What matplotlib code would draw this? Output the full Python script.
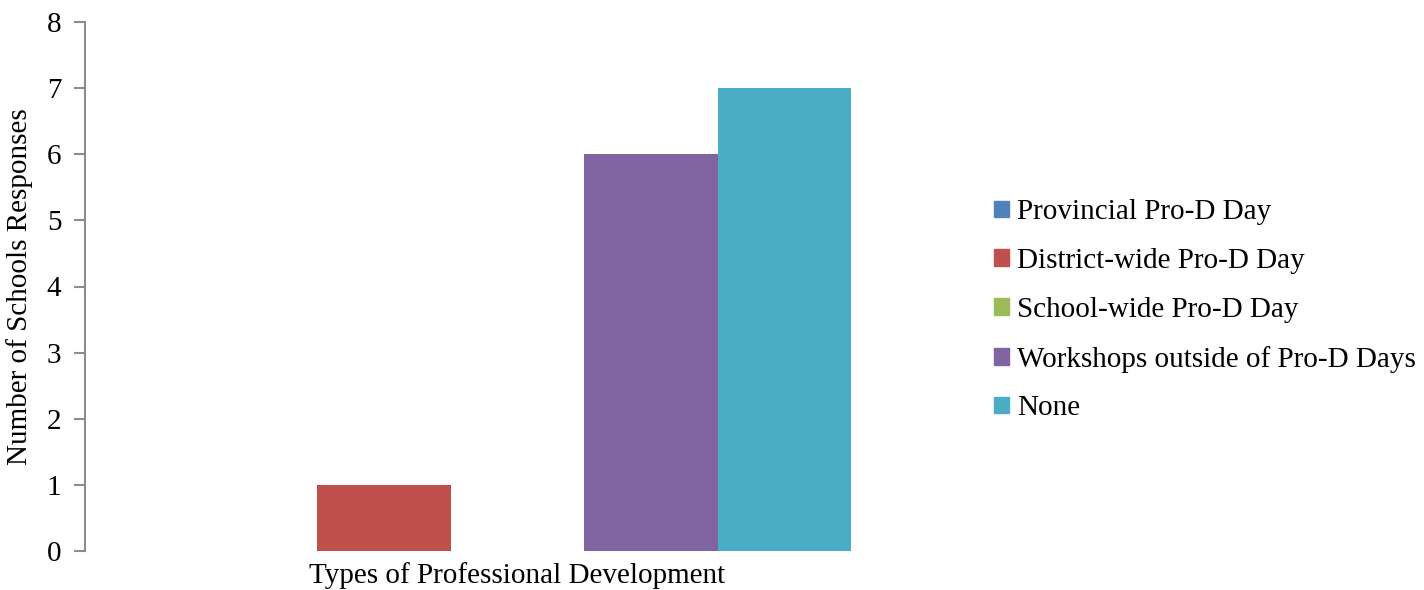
import numpy as np
import matplotlib
matplotlib.use("Agg")
from matplotlib import pyplot as plt
from matplotlib.patches import Patch

plt.rcParams['font.family'] = ['Liberation Serif', 'DejaVu Serif']

series = ['Provincial Pro-D Day', 'District-wide Pro-D Day', 'School-wide Pro-D Day',
          'Workshops outside of Pro-D Days', 'None']
values = [0, 1, 0, 6, 7]
colors = ['#4F81BD', '#C0504D', '#9BBB59', '#8064A2', '#4BACC6']
yticks = [0, 1, 2, 3, 4, 5, 6, 7, 8]

fig = plt.figure(figsize=(14.24, 5.9), dpi=100)
ax = fig.add_axes([85/1424, 39/590, 865/1424, 529/590])

# one category, five series side by side
w = 0.771 / len(series)
offs = (np.arange(len(series)) - (len(series) - 1) / 2) * w
for o, v, c in zip(offs, values, colors):
    ax.bar(o, v, width=w, color=c, linewidth=0)

ax.set_xlim(-0.5, 0.5)
ax.set_ylim(0, 8)
ax.set_yticks(yticks)
ax.set_xticks([])
for s in ['top', 'right', 'bottom']:
    ax.spines[s].set_visible(False)
ax.spines['left'].set_color('#8c8c8c')
ax.spines['left'].set_linewidth(1.5)
ax.tick_params(axis='y', direction='out', length=8, width=1.5, color='#8c8c8c',
               labelsize=21, pad=9)
ax.set_ylabel('Number of Schools Responses', fontsize=21, labelpad=10)
ax.set_xlabel('Types of Professional Development', fontsize=21, labelpad=8)

handles = [Patch(color=c, label=s) for s, c in zip(series, colors)]
fig.legend(handles=handles, loc='center left', bbox_to_anchor=(994/1424, 0.474),
           frameon=False, fontsize=21, handlelength=0.5, handleheight=0.5,
           handletextpad=0.3, labelspacing=0.78, borderaxespad=0, borderpad=0)

fig.savefig('out.png', dpi=100)
